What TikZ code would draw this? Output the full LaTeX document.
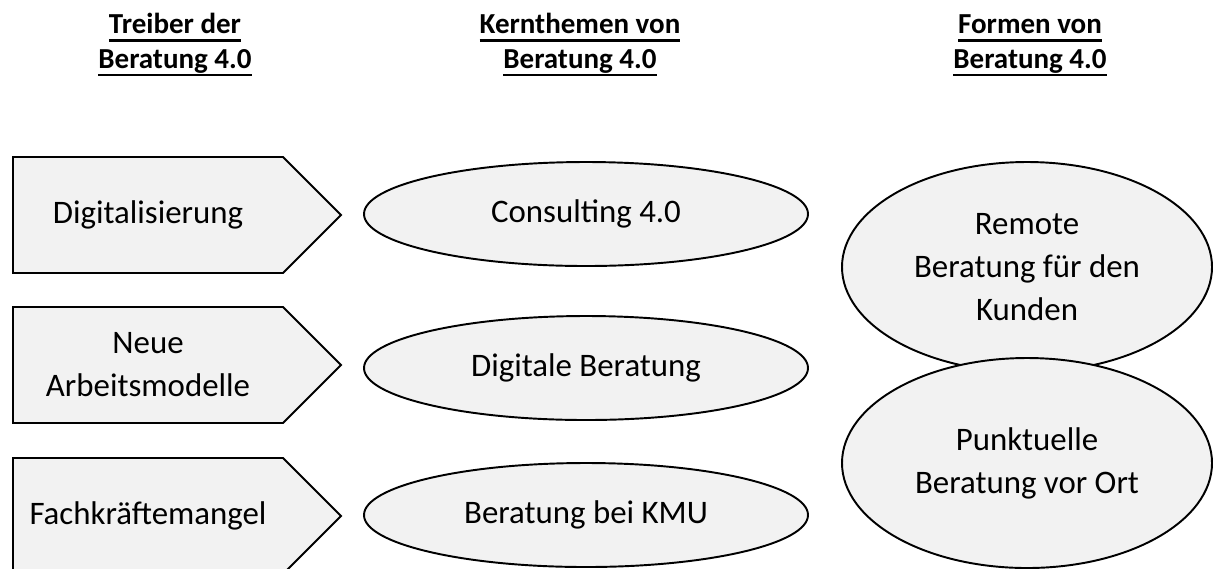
\documentclass[tikz,border=0pt]{standalone}
\usepackage{fontspec}
\setmainfont{Carlito}
\usetikzlibrary{shapes.geometric,shapes.symbols,positioning}

\definecolor{boxgray}{HTML}{F2F2F2}
\newcommand\bodyfont{\fontsize{18.7}{24.4}\selectfont}
\newcommand\headfont{\fontsize{16.5}{19.8}\selectfont\bfseries}
\newcommand\headul[1]{\vtop{\hbox{\vphantom{g}#1}\kern0.5pt\hrule height 1.5pt}}

\tikzset{
    driver/.style={signal, signal to=east, draw, line width=1.1pt, fill=boxgray,
        minimum width=6.56cm, minimum height=2.32cm, font=\bodyfont, align=center},
    topic/.style={ellipse, draw, line width=1.1pt, fill=boxgray,
        minimum width=8.88cm, minimum height=2.08cm, font=\bodyfont, align=center},
    form/.style={ellipse, draw, line width=1.1pt, fill=boxgray,
        minimum width=7.4cm, minimum height=4.2cm, font=\bodyfont, align=center},
    header/.style={font=\headfont, align=center, anchor=base}
}

\begin{document}
\begin{tikzpicture}
    \useasboundingbox (0, 0) rectangle (24.26, -11.36);

    % headings (base = last line)
    \node[header] (hdriver) at (3.5, -1.36) {\headul{Treiber der}\\\headul{Beratung 4.0}};
    \node[header] (htopic) at (11.6, -1.36) {\headul{Kernthemen von}\\\headul{Beratung 4.0}};
    \node[header] (hform) at (20.6, -1.36) {\headul{Formen von}\\\headul{Beratung 4.0}};

    % drivers
    \node[driver] (digital) at (2.96, -4.30) {Digitalisierung};
    \node[driver] (arbeit) at (2.96, -7.30) {Neue\\Arbeitsmodelle};
    \node[driver] (fachkraft) at (2.96, -10.32) {Fachkräftemangel};

    % core topics
    \node[topic] (consulting) at (11.72, -4.28) {Consulting 4.0};
    \node[topic] (digiberat) at (11.72, -7.36) {Digitale Beratung};
    \node[topic] (kmu) at (11.72, -10.30) {Beratung bei KMU};

    % forms
    \node[form] (remote) at (20.54, -5.34) {Remote\\Beratung für den\\Kunden};
    \node[form] (vorort) at (20.54, -9.26) {Punktuelle\\Beratung vor Ort};
\end{tikzpicture}
\end{document}
